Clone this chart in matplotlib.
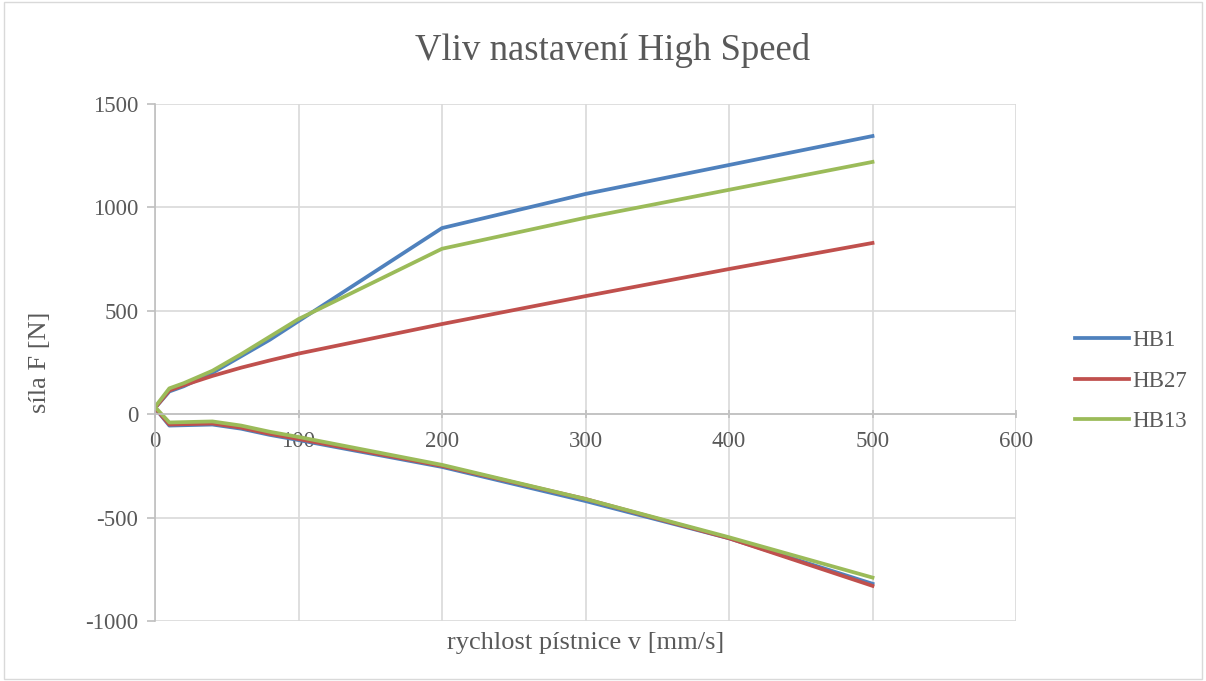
import numpy as np
import matplotlib.pyplot as plt
from matplotlib.patches import Rectangle

# data: rebound branch (negative) from 500 down to 0, then compression branch back to 500
rychlost = [500, 400, 300, 200, 100, 80, 60, 40, 10, 0, 10, 20, 40, 60, 80, 100, 200, 300, 400, 500]
hb1 = [-820, -600, -420, -255, -125, -100, -70, -50, -55, 30, 110, 135, 200, 280, 360, 450, 900, 1065, 1205, 1345]
hb27 = [-830, -600, -410, -250, -120, -95, -65, -45, -50, 30, 115, 140, 185, 225, 260, 293, 436, 571, 702, 828]
hb13 = [-790, -595, -410, -245, -110, -85, -55, -35, -40, 35, 125, 150, 210, 290, 375, 460, 800, 950, 1085, 1220]

nazvy = ['HB1', 'HB27', 'HB13']
barvy = ['#4F81BD', '#C0504D', '#9BBB59']

plt.rcParams['font.family'] = ['Liberation Serif', 'DejaVu Serif']
plt.rcParams['axes.unicode_minus'] = False

fig = plt.figure(figsize=(12.06, 6.81), dpi=100)
ax = fig.add_axes([155/1206, 1 - 621/681, (1016 - 155)/1206, (621 - 104)/681])

for y, nazev, barva in zip([hb1, hb27, hb13], nazvy, barvy):
    ax.plot(rychlost, y, color=barva, lw=2.7, label=nazev, solid_joinstyle='round')

ax.set_xlim(0, 600)
ax.set_ylim(-1000, 1500)
ax.set_xticks(np.arange(0, 601, 100))
ax.set_yticks(np.arange(-1000, 1501, 500))
ax.grid(True, color='#d9d9d9', lw=1.2)
ax.set_axisbelow(True)

# osy jako v Excelu - protinaji se v nule
ax.spines['left'].set_position(('data', 0))
ax.spines['bottom'].set_position(('data', 0))
ax.spines['right'].set_visible(False)
ax.spines['top'].set_visible(False)
ax.spines['left'].set_color('#bfbfbf')
ax.spines['bottom'].set_color('#bfbfbf')
ax.spines['left'].set_linewidth(1.2)
ax.spines['bottom'].set_linewidth(1.2)
ax.tick_params(axis='both', colors='#bfbfbf', labelcolor='#595959', labelsize=16.5, length=6, width=1.2)
ax.tick_params(axis='x', direction='inout', pad=9)
ax.tick_params(axis='y', direction='out', pad=6)

fig.text(613/1206, 1 - 50/681, 'Vliv nastavení High Speed', ha='center', va='center', fontsize=26.5, color='#595959')
fig.text((155 + 1016)/2/1206, 1 - 643/681, 'rychlost pístnice v [mm/s]', ha='center', va='center', fontsize=19, color='#595959')
fig.text(40/1206, 1 - 362/681, 'síla F [N]', ha='center', va='center', rotation=90, fontsize=19, color='#595959')

leg = ax.legend(loc='center left', bbox_to_anchor=(1075/1206, 1 - 381/681), bbox_transform=fig.transFigure,
                frameon=False, fontsize=16.5, handlelength=2.35, labelspacing=0.85, handletextpad=0.15,
                borderpad=0, borderaxespad=0)
for t in leg.get_texts():
    t.set_color('#595959')

# ramecek kolem celeho grafu
fig.patches.append(Rectangle((0.003, 0.003), 0.994, 0.994, transform=fig.transFigure,
                             fill=False, edgecolor='#d9d9d9', lw=1))

fig.savefig('out.png', dpi=100)
